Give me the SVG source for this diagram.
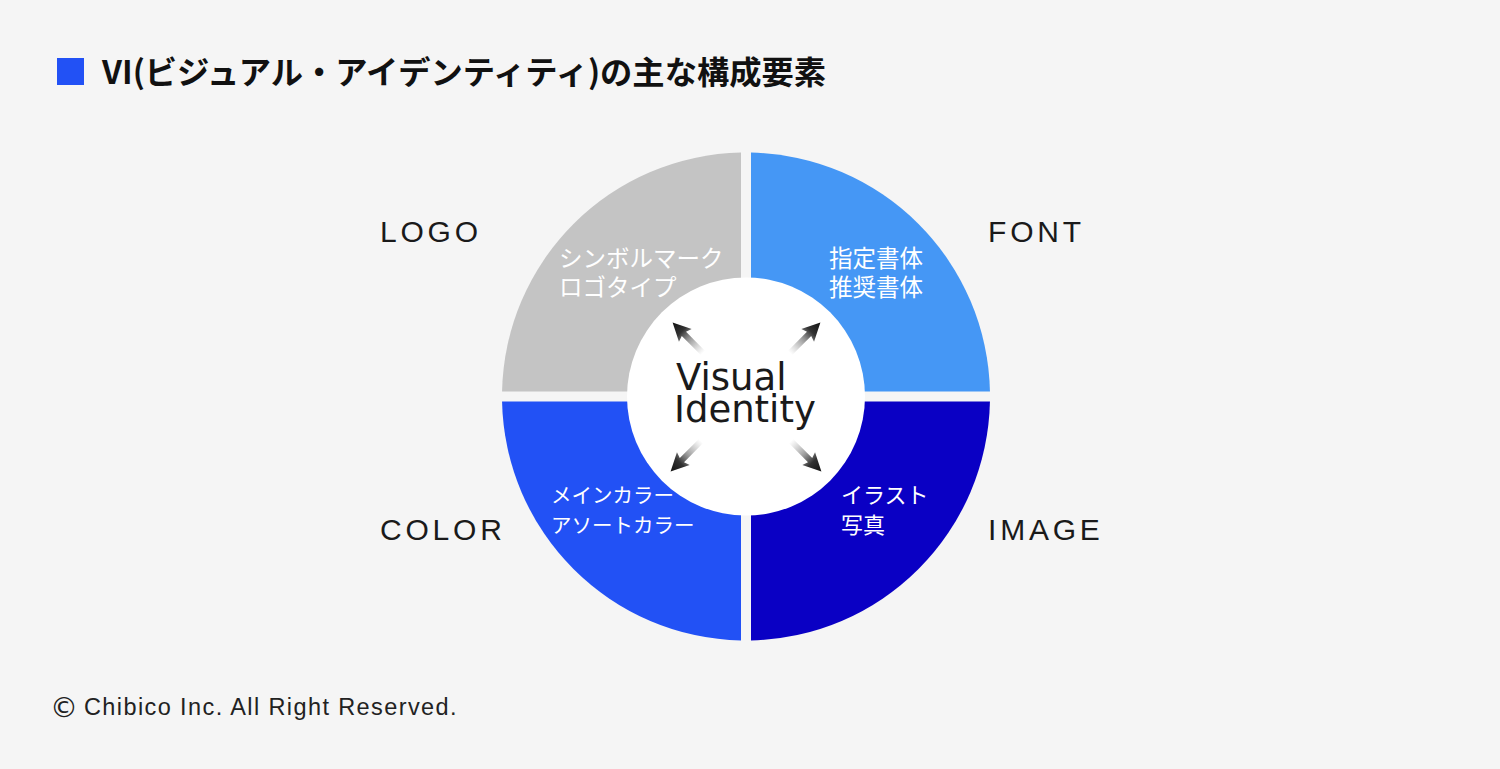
<svg xmlns="http://www.w3.org/2000/svg" width="1500" height="769" viewBox="0 0 1500 769">
<style>
.title{font-family:"Noto Sans CJK JP","Liberation Sans",sans-serif;font-weight:bold;font-size:32px;fill:#111}
.lbl{font-family:"Liberation Sans",Arial,sans-serif;font-size:30px;fill:#1a1a1a;letter-spacing:3.8px}
.item{font-family:"Noto Sans CJK JP",sans-serif;font-size:23.5px;fill:#ffffff}
.item2{font-family:"Noto Sans CJK JP",sans-serif;font-size:20.5px;fill:#ffffff}
.center{font-family:"DejaVu Sans",Verdana,sans-serif;font-size:37px;fill:#1a1a1a}
.copy{font-family:"Liberation Sans",Arial,sans-serif;font-size:23.5px;fill:#222;letter-spacing:1.4px}
.csym{font-family:"DejaVu Sans",sans-serif;font-size:28px;fill:#222}
</style>
<defs>
<linearGradient id="ag" x1="0" y1="0" x2="1" y2="0">
<stop offset="0" stop-color="#999" stop-opacity="0"/>
<stop offset="0.45" stop-color="#777" stop-opacity="0.75"/>
<stop offset="0.7" stop-color="#333"/>
<stop offset="1" stop-color="#111"/>
</linearGradient>
<polygon id="arrow" points="0,-3 27,-3 25,-9 43,0 25,9 27,3 0,3" fill="url(#ag)"/>
</defs>
<rect width="1500" height="769" fill="#f5f5f5"/>
<g id="title">
<rect x="57" y="58" width="27" height="27" fill="#2251f5"/>
<text class="title" x="102" y="84" textLength="724" lengthAdjust="spacingAndGlyphs">VI(ビジュアル・アイデンティティ)の主な構成要素</text>
</g>
<g id="logo">
<path d="M741,391.5 L502.05,391.5 A244,244 0 0 1 741,152.55 Z" fill="#c4c4c4"/>
<text class="item" x="559" y="267">シンボルマーク</text>
<text class="item" x="559" y="296">ロゴタイプ</text>
<text class="lbl" x="380" y="242">LOGO</text>
</g>
<g id="font">
<path d="M751,391.5 L751,152.55 A244,244 0 0 1 989.95,391.5 Z" fill="#4597f5"/>
<text class="item" x="829" y="267">指定書体</text>
<text class="item" x="829" y="296">推奨書体</text>
<text class="lbl" x="988" y="242">FONT</text>
</g>
<g id="image">
<path d="M751,401.5 L989.95,401.5 A244,244 0 0 1 751,640.45 Z" fill="#0a00c4"/>
<text class="item" x="841" y="503" style="font-size:22px">イラスト</text>
<text class="item" x="841" y="533" style="font-size:22px">写真</text>
<text class="lbl" x="988" y="540">IMAGE</text>
</g>
<g id="color">
<path d="M741,401.5 L741,640.45 A244,244 0 0 1 502.05,401.5 Z" fill="#2251f5"/>
<text class="item2" x="551" y="503">メインカラー</text>
<text class="item2" x="551" y="533">アソートカラー</text>
<text class="lbl" x="380" y="540">COLOR</text>
</g>
<g id="center">
<circle cx="746" cy="396.5" r="119" fill="#ffffff"/>
<text class="center" x="676" y="390">Visual</text>
<text class="center" x="674" y="422">Identity</text>
</g>
<g id="connectors">
<use href="#arrow" transform="translate(703,353) rotate(-135)"/>
<use href="#arrow" transform="translate(790,353) rotate(-45)"/>
<use href="#arrow" transform="translate(701,441) rotate(135)"/>
<use href="#arrow" transform="translate(791,441) rotate(45)"/>
</g>
<g id="footer">
<text class="csym" x="50" y="717">©</text>
<text class="copy" x="84" y="715">Chibico Inc. All Right Reserved.</text>
</g>
</svg>
